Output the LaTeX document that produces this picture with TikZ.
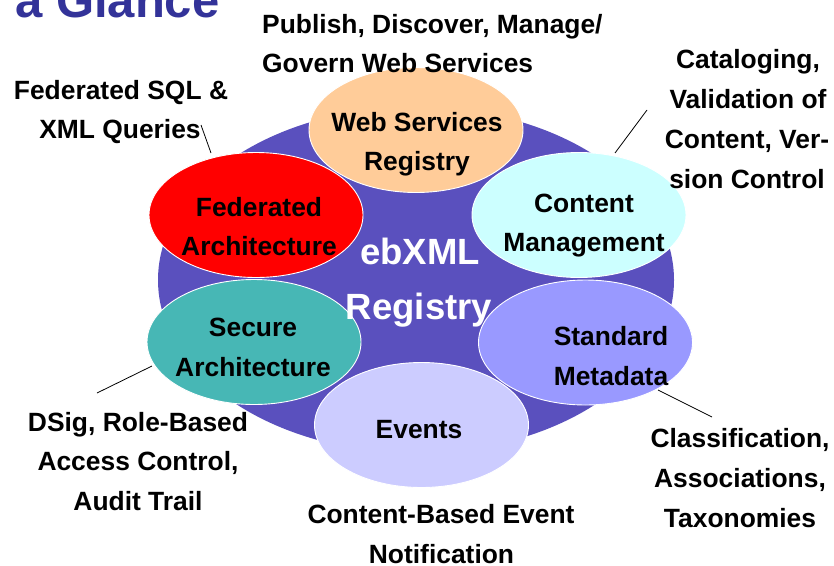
\documentclass[tikz,border=0pt]{standalone}
\usepackage{fontspec}
\setmainfont{Liberation Sans}
\usetikzlibrary{shapes.geometric}
\definecolor{regfill}{RGB}{90,80,190}
\definecolor{wsfill}{RGB}{255,204,153}
\definecolor{fedfill}{RGB}{255,0,0}
\definecolor{cmfill}{RGB}{204,255,255}
\definecolor{secfill}{RGB}{71,183,181}
\definecolor{smfill}{RGB}{153,153,255}
\definecolor{evfill}{RGB}{204,204,255}
\definecolor{titleblue}{RGB}{51,51,153}
\tikzset{
  bubble/.style={ellipse, draw=white, line width=0.9pt, inner sep=0pt, minimum width=214pt, minimum height=125pt},
  lbl/.style={inner sep=0pt, anchor=base, font=\fontsize{26.4}{30}\selectfont\bfseries},
  biglbl/.style={inner sep=0pt, anchor=base, text=white, font=\fontsize{36.5}{40}\selectfont\bfseries},
  pinline/.style={draw=black, line width=0.8pt},
}
\begin{document}
\begin{tikzpicture}[x=1pt,y=-1pt]
\useasboundingbox (0,0) rectangle (834,565);
\clip (0,0) rectangle (834,565);
\fill[white] (0,0) rectangle (834,565);
% title (cut off at top)
\node[inner sep=0pt, anchor=base west, text=titleblue, font=\fontsize{49}{55}\selectfont\bfseries] (title) at (15,17) {a Glance};
% central registry
\node[ellipse, fill=regfill, inner sep=0pt, minimum width=516pt, minimum height=346pt] (reg) at (416,280) {};
% bubbles
\node[bubble, fill=wsfill] (ws) at (416,130) {};
\node[bubble, fill=fedfill] (fed) at (256,215) {};
\node[bubble, fill=cmfill] (cm) at (579,215) {};
\node[bubble, fill=secfill] (sec) at (254,342) {};
\node[bubble, fill=smfill] (sm) at (585.5,342.5) {};
\node[bubble, fill=evfill] (ev) at (421.5,425) {};
% bubble texts
\node[lbl] (wsA) at (417,131) {Web Services};
\node[lbl] (wsB) at (417,170) {Registry};
\node[lbl] (fedA) at (259,216) {Federated};
\node[lbl] (fedB) at (259,255) {Architecture};
\node[lbl] (cmA) at (584,212) {Content};
\node[lbl] (cmB) at (584,251) {Management};
\node[lbl] (secA) at (253,336) {Secure};
\node[lbl] (secB) at (253,376) {Architecture};
\node[lbl] (smA) at (611,345) {Standard};
\node[lbl] (smB) at (611,385) {Metadata};
\node[lbl] (evA) at (419,438) {Events};
\node[biglbl] (regA) at (420,264) {ebXML};
\node[biglbl] (regB) at (419,319) {Registry};
% outer labels
\node[lbl, anchor=base west] (pubA) at (262,33) {Publish, Discover, Manage/};
\node[lbl, anchor=base west] (pubB) at (262,72) {Govern Web Services};
\node[lbl] (sqlA) at (121,99) {Federated SQL \&};
\node[lbl] (sqlB) at (120,138) {XML Queries};
\node[lbl] (catA) at (748,68) {Cataloging,};
\node[lbl] (catB) at (748,108) {Validation of};
\node[lbl] (catC) at (747,148) {Content, Ver-};
\node[lbl] (catD) at (747,188) {sion Control};
\node[lbl] (dsA) at (138,431) {DSig, Role-Based};
\node[lbl] (dsB) at (138,470) {Access Control,};
\node[lbl] (dsC) at (138,510) {Audit Trail};
\node[lbl] (clA) at (740,447) {Classification,};
\node[lbl] (clB) at (740,487) {Associations,};
\node[lbl] (clC) at (740,527) {Taxonomies};
\node[lbl] (cbA) at (441,523) {Content-Based Event};
\node[lbl] (cbB) at (441.5,563) {Notification};
% connectors
\coordinate (p1s) at (201,125);
\coordinate (p1e) at (211,153);
\coordinate (p2s) at (647,110);
\coordinate (p2e) at (615,153);
\coordinate (p3s) at (152,366);
\coordinate (p3e) at (97,393);
\coordinate (p4s) at (658,390);
\coordinate (p4e) at (712,417);
\draw[pinline] (p1s) -- (p1e);
\draw[pinline] (p2s) -- (p2e);
\draw[pinline] (p3s) -- (p3e);
\draw[pinline] (p4s) -- (p4e);
\end{tikzpicture}
\end{document}
